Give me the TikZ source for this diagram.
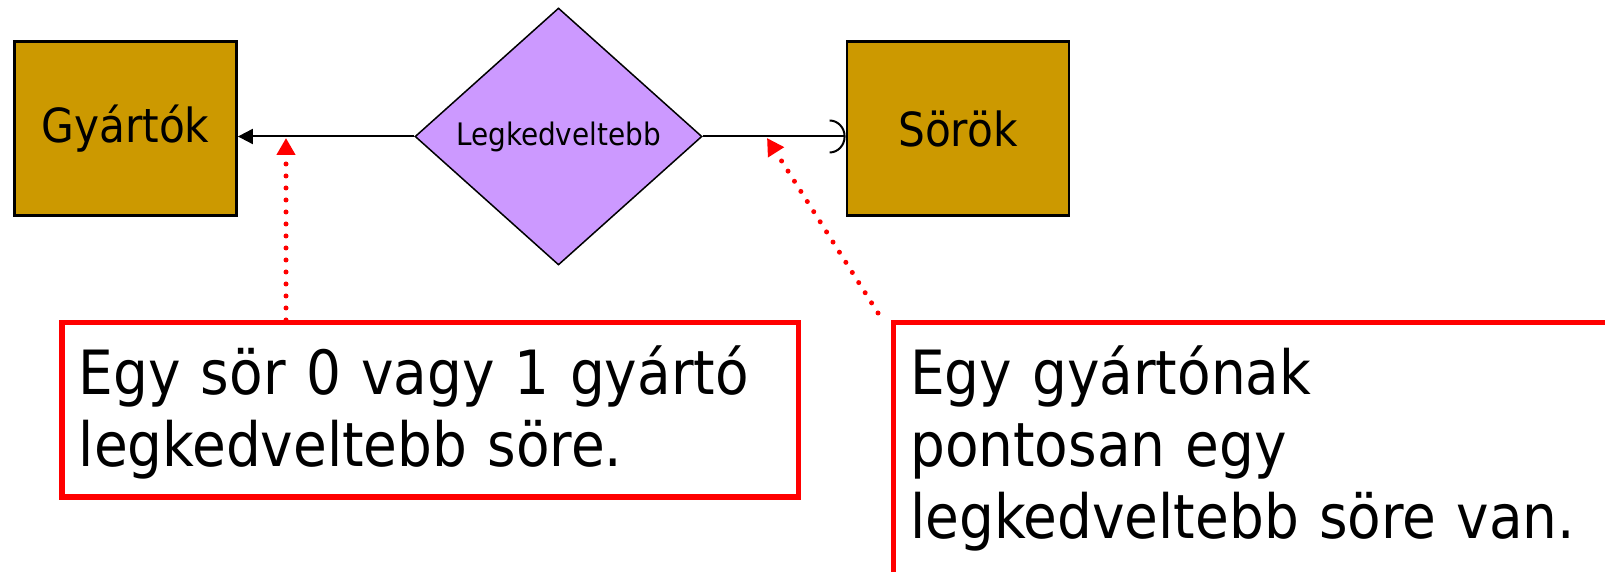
\documentclass[tikz,border=0pt]{standalone}
\usepackage{fontspec}
\setmainfont{DejaVu Sans Condensed}
\usetikzlibrary{shapes.geometric,arrows.meta}

\definecolor{gold}{HTML}{CC9900}
\definecolor{lilac}{HTML}{CC99FF}

\begin{document}
\begin{tikzpicture}[x=1pt,y=1pt,
    entity/.style={draw,line width=2.8pt,fill=gold,minimum width=222pt,
      minimum height=174pt,inner sep=0pt,font=\fontsize{47}{56}\selectfont},
    rel/.style={diamond,draw,line width=1.5pt,fill=lilac,minimum width=287pt,
      minimum height=257pt,inner sep=0pt,font=\fontsize{31}{37}\selectfont},
    note/.style={draw=red,line width=5.5pt,align=left,inner xsep=17pt,
      inner ysep=0pt,text height=72pt,font=\fontsize{61}{72}\selectfont},
    hint/.style={red,line width=5pt,line cap=round,dash pattern=on 0pt off 12pt,
      -{Triangle[length=17pt,width=18pt]}}]
  \clip (0,0) rectangle (1605,572);
  \node[entity] (gyartok) at (125.5,443.5) {Gyártók};
  \node[rel] (kedvenc) at (558.5,435.5) {Legkedveltebb};
  \node[entity] (sorok) at (958,443.5) {Sörök};
  \draw[line width=2pt,-{Triangle[length=15pt,width=15pt]}] (kedvenc.west) -- (gyartok.east |- kedvenc.west);
  \draw[line width=2pt,-{Arc Barb[length=16pt,width=34pt]}] (kedvenc.east) -- (sorok.west |- kedvenc.east);
  % megjegyzesek
  \node[note,anchor=north west,text width=702.5pt,text depth=102.5pt] (note1) at (59,252)
    {Egy sör 0 vagy 1 gyártó\\legkedveltebb söre.};
  \node[note,anchor=north west,text width=700pt,text depth=300pt] (note2) at (890.5,252)
    {Egy gyártónak\\pontosan egy\\legkedveltebb söre van.};
  \coordinate (tip1) at (286,434);
  \coordinate (tip2) at (767,434);
  \coordinate (tail2) at (878,259);
  \draw[hint] (note1.north -| tip1) -- (tip1);
  \draw[hint] (tail2) -- (tip2);
\end{tikzpicture}
\end{document}
